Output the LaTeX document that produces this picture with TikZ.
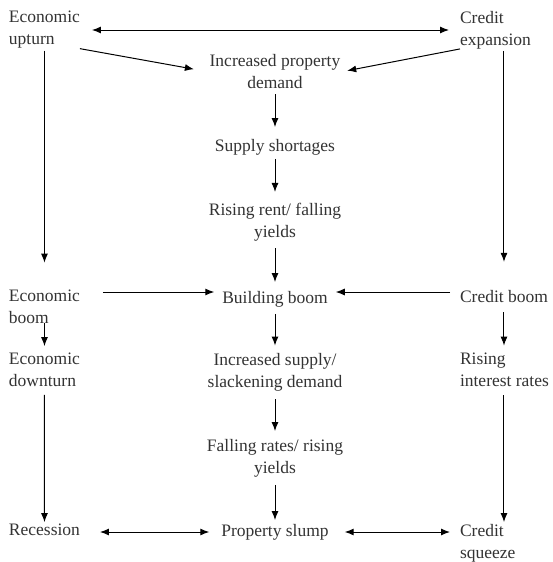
\documentclass[tikz,border=0pt]{standalone}
\usepackage{fontspec}
\setmainfont{Liberation Serif}
\usepackage{tikz}
\usetikzlibrary{arrows.meta}

\begin{document}
\begin{tikzpicture}[x=1pt, y=-1pt, line width=1pt, >={Latex[length=9pt, width=7pt]},
		every node/.style={font=\fontsize{17.5}{22}\selectfont, inner sep=0pt, outer sep=0pt, text=black!80},
		side/.style={right, align=left},
		mid/.style={align=center}]
			\useasboundingbox (0,0) rectangle (553,562);
			% left column
			\node[side] at(9, 30) (upturn){Economic\\upturn};
			\node[side] at(9, 306.5) (ecboom){Economic\\boom};
			\node[side] at(9, 370) (downturn){Economic\\downturn};
			\node[side] at(9, 530) (recession){Recession};
			% middle column
			\node[mid] at(275, 72) (demand){Increased property\\demand};
			\node[mid] at(275, 147) (shortage){Supply shortages};
			\node[mid] at(275, 222) (rent){Rising rent/ falling\\yields};
			\node[mid] at(275, 299) (building){Building boom};
			\node[mid] at(275, 372.5) (supply){Increased supply/\\slackening demand};
			\node[mid] at(275, 458) (falling){Falling rates/ rising\\yields};
			\node[mid] at(275, 532) (slump){Property slump};
			% right column
			\node[side] at(460, 30) (expansion){Credit\\expansion};
			\node[side] at(460, 297) (crboom){Credit boom};
			\node[side] at(460, 369.5) (rates){Rising\\interest rates};
			\node[side] at(460, 543) (squeeze){Credit\\squeeze};
			% arrows
			\draw[<->, shorten <=12pt, shorten >=11pt] (upturn.east) -- (expansion.west);
			\draw[->, shorten >=16pt] (upturn.south east) -- (demand.west);
			\draw[->, shorten >=7pt] (expansion.south west) -- (demand.east);
			\draw[->, shorten <=2pt, shorten >=27pt] (upturn) -- (ecboom);
			\draw[->, shorten <=2pt, shorten >=29pt] (expansion.south -| crboom) -- (crboom.north);
			\draw[->, shorten <=5pt, shorten >=12pt] (demand) -- (shortage);
			\draw[->, shorten <=4pt, shorten >=11pt] (shortage) -- (rent);
			\draw[->, shorten <=7pt, shorten >=9pt] (rent) -- (building);
			\draw[->, shorten <=23pt, shorten >=8pt] ([yshift=7pt]building.west -| ecboom.east) -- ([yshift=7pt]building.west);
			\draw[->, shorten <=10pt, shorten >=8pt] ([yshift=7pt]building.east -| crboom.west) -- ([yshift=7pt]building.east);
			\draw[->, shorten >=7pt] (ecboom) -- (downturn);
			\draw[->, shorten <=7pt, shorten >=8pt] (building) -- (supply);
			\draw[->, shorten <=9pt, shorten >=7pt] (crboom.south) -- (crboom.south |- rates.north);
			\draw[->, shorten <=8pt, shorten >=2pt] (downturn) -- (recession);
			\draw[->, shorten <=8pt, shorten >=8pt] (supply) -- (falling);
			\draw[->, shorten <=9pt, shorten >=2pt] (rates.south -| crboom) -- (squeeze.north -| crboom);
			\draw[->, shorten <=8pt, shorten >=4pt] (falling) -- (slump);
			\draw[<->, shorten <=20pt, shorten >=12pt] (slump.west -| recession.east) -- (slump.west);
			\draw[<->, shorten <=16pt, shorten >=10pt] (slump.east) -- (squeeze.west |- slump.east);
		\end{tikzpicture}
\end{document}
